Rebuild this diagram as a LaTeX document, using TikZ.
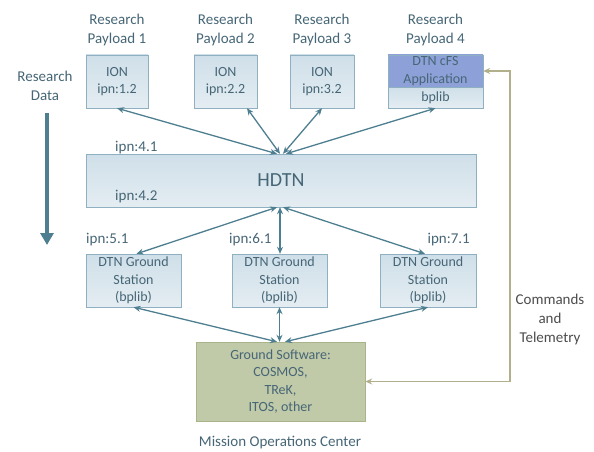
\documentclass[tikz,border=0pt]{standalone}
\usepackage{fontspec}
\setmainfont{Carlito}
\usepackage{tikz}
\usetikzlibrary{arrows.meta}
\definecolor{boxtop}{RGB}{207,223,233}
\definecolor{boxbot}{RGB}{228,237,242}
\definecolor{boxline}{RGB}{143,176,192}
\definecolor{linkcol}{RGB}{78,127,144}
\definecolor{txtcol}{RGB}{70,102,118}
\definecolor{appfill}{RGB}{142,160,216}
\definecolor{gswfill}{RGB}{192,201,168}
\definecolor{gswline}{RGB}{170,180,140}
\definecolor{cmdcol}{RGB}{178,176,138}
\tikzstyle{unit}=[draw=boxline,top color=boxtop,bottom color=boxbot,text=txtcol,align=center,inner sep=0pt,font=\fontsize{14}{17.5}\selectfont]
\tikzstyle{caption}=[text=txtcol,align=center,inner sep=0pt,font=\fontsize{15}{19}\selectfont]
\tikzstyle{link}=[{Stealth[length=7pt,width=6pt]}-{Stealth[length=7pt,width=6pt]},draw=linkcol,line width=1.3pt]
\tikzstyle{cmd}=[{Stealth[length=7pt,width=6pt]}-{Stealth[length=7pt,width=6pt]},draw=cmdcol,line width=1.3pt]
\tikzset{every picture/.style={x=1pt,y=-1pt}}

\begin{document}
\begin{tikzpicture}
      \useasboundingbox (0,0) rectangle (594,452);
      \node[caption] at (117,30) (pl1) {Research\\Payload 1};
      \node[caption] at (225.5,30) (pl2) {Research\\Payload 2};
      \node[caption] at (322,30) (pl3) {Research\\Payload 3};
      \node[caption] at (435.5,30) (pl4) {Research\\Payload 4};
      \node[caption] at (45,86) (data) {Research\\Data};
      \node[unit,minimum width=62pt,minimum height=53pt] at (117,81.5) (ion1) {ION\\ipn:1.2};
      \node[unit,minimum width=63pt,minimum height=53pt] at (225.5,81.5) (ion2) {ION\\ipn:2.2};
      \node[unit,minimum width=64pt,minimum height=53pt] at (322,81.5) (ion3) {ION\\ipn:3.2};
      \node[unit,fill=appfill,top color=appfill,bottom color=appfill,minimum width=95pt,minimum height=32pt] at (435.5,71) (app) {DTN cFS\\Application};
      \node[unit,minimum width=95pt,minimum height=21pt] at (435.5,97.5) (bplib) {bplib};
      \node[unit,minimum width=390pt,minimum height=53pt,font=\fontsize{20}{24}\selectfont] at (281,180.5) (hdtn) {HDTN};
      \node[caption,anchor=west] at (115,148) (ipn41) {ipn:4.1};
      \node[caption,anchor=west] at (115,197) (ipn42) {ipn:4.2};
      \node[unit,minimum width=95pt,minimum height=53pt] at (133.5,280.5) (gs1) {DTN Ground\\Station\\(bplib)};
      \node[unit,minimum width=95pt,minimum height=53pt] at (279.5,280.5) (gs2) {DTN Ground\\Station\\(bplib)};
      \node[unit,minimum width=96pt,minimum height=53pt] at (428,280.5) (gs3) {DTN Ground\\Station\\(bplib)};
      \node[caption,anchor=west] at (86,240) (ipn51) {ipn:5.1};
      \node[caption,anchor=west] at (229,240) (ipn61) {ipn:6.1};
      \node[caption,anchor=east] at (470,240) (ipn71) {ipn:7.1};
      \node[unit,draw=gswline,top color=gswfill,bottom color=gswfill,minimum width=169pt,minimum height=79pt] at (280.5,381.5) (gsw) {Ground Software:\\COSMOS,\\TReK,\\ITOS, other};
      \node[caption] at (280,443) (moc) {Mission Operations Center};
      \node[caption,text=black!70] at (550,319) (cmdtxt) {Commands\\and\\Telemetry};
      \coordinate (dataend) at (47,245);
      \coordinate (cmdx) at (510,200);
      \draw[-{Triangle[length=12pt,width=13pt]},draw=linkcol,fill=linkcol,line width=4.5pt] ([xshift=2pt,yshift=-12pt]data.south) -- (dataend);
      \draw[link] (ion1.south) -- ([xshift=-4pt]hdtn.north);
      \draw[link] ([xshift=21.5pt]ion2.south) -- ([xshift=-1pt]hdtn.north);
      \draw[link] (ion3.south) -- ([xshift=2pt]hdtn.north);
      \draw[link] (bplib.south) -- ([xshift=5pt]hdtn.north);
      \draw[link] ([xshift=-4pt]hdtn.south) -- ([xshift=3pt]gs1.north);
      \draw[link] ([xshift=-1pt]hdtn.south) -- ([xshift=-1pt]hdtn.south |- gs2.north);
      \draw[link] ([xshift=2pt]hdtn.south) -- ([xshift=-3pt]gs3.north);
      \draw[link] (gs1.south) -- ([xshift=-3.5pt]gsw.north);
      \draw[link] (gs2.south) -- (gs2.south |- gsw.north);
      \draw[link] (gs3.south) -- ([xshift=4.5pt]gsw.north);
      \draw[cmd] (app.east) -| (cmdx) |- (gsw.east);
    \end{tikzpicture}
\end{document}
